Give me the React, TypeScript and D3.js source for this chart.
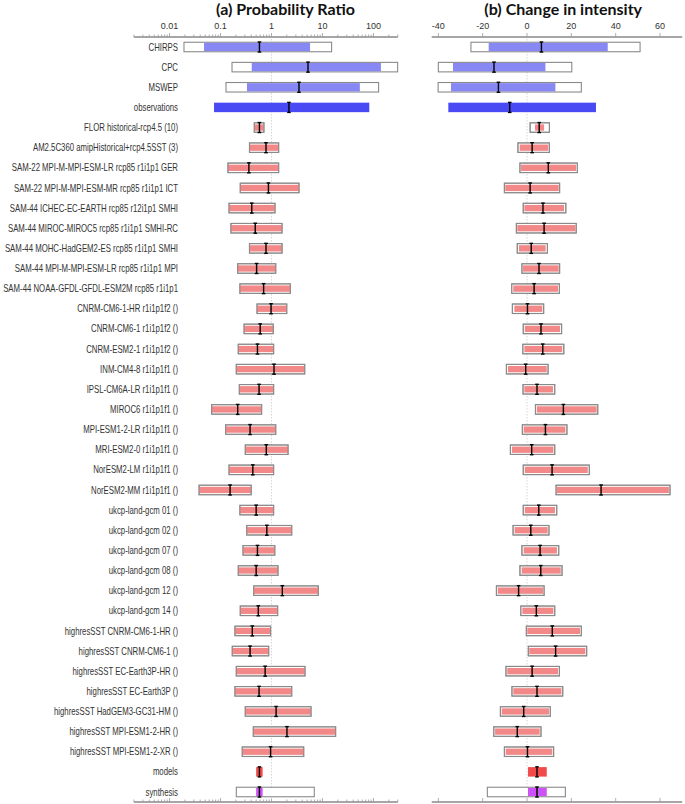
import React from 'react';
import * as d3 from 'd3';

// rows, top to bottom
const rows = [
  'CHIRPS', 'CPC', 'MSWEP', 'observations',
  'FLOR historical-rcp4.5 (10)', 'AM2.5C360 amipHistorical+rcp4.5SST (3)',
  'SAM-22 MPI-M-MPI-ESM-LR rcp85 r1i1p1 GER', 'SAM-22 MPI-M-MPI-ESM-MR rcp85 r1i1p1 ICT',
  'SAM-44 ICHEC-EC-EARTH rcp85 r12i1p1 SMHI', 'SAM-44 MIROC-MIROC5 rcp85 r1i1p1 SMHI-RC',
  'SAM-44 MOHC-HadGEM2-ES rcp85 r1i1p1 SMHI', 'SAM-44 MPI-M-MPI-ESM-LR rcp85 r1i1p1 MPI',
  'SAM-44 NOAA-GFDL-GFDL-ESM2M rcp85 r1i1p1',
  'CNRM-CM6-1-HR r1i1p1f2 ()', 'CNRM-CM6-1 r1i1p1f2 ()', 'CNRM-ESM2-1 r1i1p1f2 ()',
  'INM-CM4-8 r1i1p1f1 ()', 'IPSL-CM6A-LR r1i1p1f1 ()', 'MIROC6 r1i1p1f1 ()',
  'MPI-ESM1-2-LR r1i1p1f1 ()', 'MRI-ESM2-0 r1i1p1f1 ()', 'NorESM2-LM r1i1p1f1 ()',
  'NorESM2-MM r1i1p1f1 ()',
  'ukcp-land-gcm 01 ()', 'ukcp-land-gcm 02 ()', 'ukcp-land-gcm 07 ()', 'ukcp-land-gcm 08 ()',
  'ukcp-land-gcm 12 ()', 'ukcp-land-gcm 14 ()',
  'highresSST CNRM-CM6-1-HR ()', 'highresSST CNRM-CM6-1 ()', 'highresSST EC-Earth3P-HR ()',
  'highresSST EC-Earth3P ()', 'highresSST HadGEM3-GC31-HM ()', 'highresSST MPI-ESM1-2-HR ()',
  'highresSST MPI-ESM1-2-XR ()',
  'models', 'synthesis',
];

const groups = rows.map((r, i) =>
  i < 3 ? 'obs' : r === 'observations' ? 'obsAll' : r === 'models' ? 'modelAll' : r === 'synthesis' ? 'synth' : 'model'
);

// (a) probability ratio
const prOuterLo = [0.0192, 0.168, 0.128, 0.0746, 0.46, 0.37, 0.14, 0.244, 0.147, 0.16, 0.37, 0.217, 0.24, 0.52, 0.29, 0.223, 0.204, 0.234, 0.067, 0.126, 0.306, 0.147, 0.038, 0.24, 0.327, 0.276, 0.223, 0.448, 0.244, 0.192, 0.17, 0.204, 0.192, 0.306, 0.44, 0.267, 0.5, 0.204];
const prOuterHi = [15.1, 298, 126, 82.7, 0.71, 1.38, 1.38, 3.46, 1.17, 1.61, 1.61, 1.21, 2.34, 1.99, 1.08, 1.1, 4.48, 1.1, 0.64, 1.21, 2.11, 1.1, 0.4, 1.1, 2.49, 1.16, 1.34, 8.27, 1.32, 0.96, 0.88, 4.54, 2.49, 5.95, 18.1, 4.28, 0.67, 6.9];
const prLo = [0.0475, 0.41, 0.33, 0.0746, 0.46, 0.37, 0.14, 0.244, 0.147, 0.16, 0.37, 0.217, 0.24, 0.52, 0.29, 0.223, 0.204, 0.234, 0.067, 0.126, 0.306, 0.147, 0.038, 0.24, 0.327, 0.276, 0.223, 0.448, 0.244, 0.192, 0.17, 0.204, 0.192, 0.306, 0.44, 0.267, 0.5, 0.5];
const prHi = [5.7, 140, 54, 82.7, 0.71, 1.38, 1.38, 3.46, 1.17, 1.61, 1.61, 1.21, 2.34, 1.99, 1.08, 1.1, 4.48, 1.1, 0.64, 1.21, 2.11, 1.1, 0.4, 1.1, 2.49, 1.16, 1.34, 8.27, 1.32, 0.96, 0.88, 4.54, 2.49, 5.95, 18.1, 4.28, 0.67, 0.67];
const prMed = [0.58, 5.2, 3.46, 2.2, 0.58, 0.78, 0.36, 0.87, 0.41, 0.48, 0.78, 0.51, 0.7, 0.98, 0.6, 0.53, 1.12, 0.57, 0.217, 0.38, 0.79, 0.43, 0.154, 0.5, 0.81, 0.53, 0.5, 1.63, 0.55, 0.42, 0.38, 0.75, 0.57, 1.23, 2.01, 0.96, 0.58, 0.58];

// (b) change in intensity (%)
const diOuterLo = [-25.3, -40, -40.1, -35.5, 1.4, -4.1, -3.2, -10.2, -1.7, -4.8, -4.4, -2.3, -6.9, -6.6, -1.7, -1.9, -9.3, -1.8, 3.8, -2.1, -7.5, -1.7, 13.1, -1.7, -6.3, -2.3, -3.2, -13.8, -2.8, -0.3, 0.6, -9.5, -6.8, -12.0, -15.0, -10.2, 0.45, -17.9];
const diOuterHi = [51.0, 20.2, 24.5, 31.1, 10.1, 10.1, 22.7, 14.7, 17.5, 22.2, 9.2, 14.7, 14.6, 7.5, 15.6, 16.6, 9.5, 12.5, 31.9, 18.0, 12.5, 28.1, 64.5, 13.4, 9.9, 14.3, 15.8, 7.7, 12.5, 24.5, 26.9, 14.6, 16.1, 10.5, 6.3, 12.0, 8.9, 17.3];
const diLo = [-17.3, -33.4, -34.3, -35.5, 3.6, -3.3, -2.7, -9.8, -1.2, -4.4, -3.6, -1.8, -6.2, -5.7, -1.0, -1.2, -8.6, -1.2, 4.4, -1.5, -6.8, -1.0, 13.5, -1.0, -5.6, -1.5, -2.4, -13.2, -2.1, 0.1, 1.0, -8.9, -6.2, -11.4, -14.4, -9.6, 0.45, 0.45];
const diHi = [36.4, 8.3, 12.8, 31.1, 7.7, 9.6, 22.1, 14.3, 16.7, 21.8, 8.4, 14.3, 14.0, 6.9, 14.9, 15.9, 8.9, 11.7, 31.4, 17.3, 11.9, 27.4, 64.0, 12.6, 9.3, 13.5, 15.2, 7.2, 11.9, 23.9, 26.3, 14.0, 15.5, 9.9, 5.7, 11.4, 8.9, 8.9];
const diMed = [6.5, -14.9, -12.9, -7.8, 5.5, 2.3, 9.6, 1.4, 7.2, 7.7, 1.9, 5.4, 3.2, 0.2, 6.3, 7.1, -0.6, 4.5, 16.4, 8.3, 2.1, 11.3, 33.4, 5.3, 1.7, 5.9, 6.2, -3.8, 4.2, 11.4, 12.9, 2.3, 4.5, -1.5, -4.4, 0.2, 4.5, 4.5];

const prTicks = [0.01, 0.1, 1, 10, 100];
const diTicks = [-40, -20, 0, 20, 40, 60];

const fill: Record<string, string> = {
  obs: '#8888f4',
  obsAll: '#4a4af4',
  model: '#f28888',
  modelAll: '#f24a4a',
  synth: '#cc52f6',
};

const W = 685;
const H = 804;
const yTop = 37;
const yBot = 802;

const y = d3.scalePoint<string>().domain(rows).range([47, 792]);

type PanelProps = {
  title: string;
  x: any;
  ticks: number[];
  fmt: (d: number) => string;
  minor: number[];
  ref0: number;
  oLo: number[];
  oHi: number[];
  lo: number[];
  hi: number[];
  med: number[];
};

const Panel = ({ title, x, ticks, fmt, minor, ref0, oLo, oHi, lo, hi, med }: PanelProps) => {
  const [r0, r1] = x.range();
  const bh = 9.5;
  return (
    <g>
      <text x={(x(ticks[0]) + x(ticks[ticks.length - 1])) / 2 + 14} y={15} textAnchor="middle"
        style={{ font: 'bold 16px Lato', fill: '#111' }}>{title}</text>
      {ticks.map((t) => (
        <text key={t} x={x(t)} y={29} textAnchor="middle" style={{ font: '9px "Liberation Sans"', fill: '#333' }}>
          {fmt(t)}
        </text>
      ))}
      {[yTop, yBot].map((yy) => (
        <g key={yy}>
          <line x1={r0} x2={r1} y1={yy} y2={yy} stroke="#888" strokeWidth={1.3} />
          {minor.map((t, i) => (
            <line key={i} x1={x(t)} x2={x(t)} y1={yy} y2={yy - (ticks.includes(t) ? 4 : 2.5)} stroke="#999" strokeWidth={0.8} />
          ))}
        </g>
      ))}
      <line x1={x(ref0)} x2={x(ref0)} y1={yTop + 2} y2={yBot - 1} stroke="#ccc" strokeWidth={0.8} strokeDasharray="1.5,1.5" />
      {rows.map((r, i) => {
        const g = groups[i];
        const cy = y(r)!;
        const solid = g === 'obsAll' || g === 'modelAll';
        const inset = g === 'model' ? 1 : 0;
        return (
          <g key={r}>
            {!solid && (
              <rect x={x(oLo[i])} y={cy - bh / 2} width={x(oHi[i]) - x(oLo[i])} height={bh}
                fill="#fff" stroke="#8a8a8a" strokeWidth={1.1} />
            )}
            <rect x={x(lo[i])} y={cy - bh / 2 + inset + (solid ? 0 : 0.6)} width={Math.max(x(hi[i]) - x(lo[i]), 1)}
              height={bh - 2 * inset - (solid ? 0 : 1.2)} fill={fill[g]} />
            {g === 'model' && (
              <rect x={x(oLo[i])} y={cy - bh / 2} width={x(oHi[i]) - x(oLo[i])} height={bh}
                fill="none" stroke="#8a8a8a" strokeWidth={1.1} opacity={0.8} />
            )}
            <g stroke="#000" strokeWidth={1.4}>
              <line x1={x(med[i])} x2={x(med[i])} y1={cy - 5} y2={cy + 5} />
              <line x1={x(med[i]) - 1.8} x2={x(med[i]) + 1.8} y1={cy - 5} y2={cy - 5} />
              <line x1={x(med[i]) - 1.8} x2={x(med[i]) + 1.8} y1={cy + 5} y2={cy + 5} />
            </g>
          </g>
        );
      })}
    </g>
  );
};

export default function App() {
  const xPR = d3.scaleLog().domain([0.002, 300]).range([133.9, 397.8]);
  const xDI = d3.scaleLinear().domain([-43, 70]).range([431.7, 682.2]);
  const prMinor = xPR.ticks();
  const diMinor = diTicks;

  return (
    <svg width={W} height={H} style={{ position: 'absolute', left: 0, top: 0, background: '#fff' }}>
      {rows.map((r) => (
        <text key={r} transform={`translate(178,${y(r)! + 3.6}) scale(0.78,1)`} textAnchor="end"
          style={{ font: '10px "Liberation Sans"', fill: '#333' }}>
          {r}
        </text>
      ))}
      <Panel title="(a) Probability Ratio" x={xPR} ticks={prTicks} fmt={(d) => String(d)} minor={prMinor}
        ref0={1} oLo={prOuterLo} oHi={prOuterHi} lo={prLo} hi={prHi} med={prMed} />
      <Panel title="(b) Change in intensity" x={xDI} ticks={diTicks} fmt={(d) => String(d)} minor={diMinor}
        ref0={0} oLo={diOuterLo} oHi={diOuterHi} lo={diLo} hi={diHi} med={diMed} />
    </svg>
  );
}
